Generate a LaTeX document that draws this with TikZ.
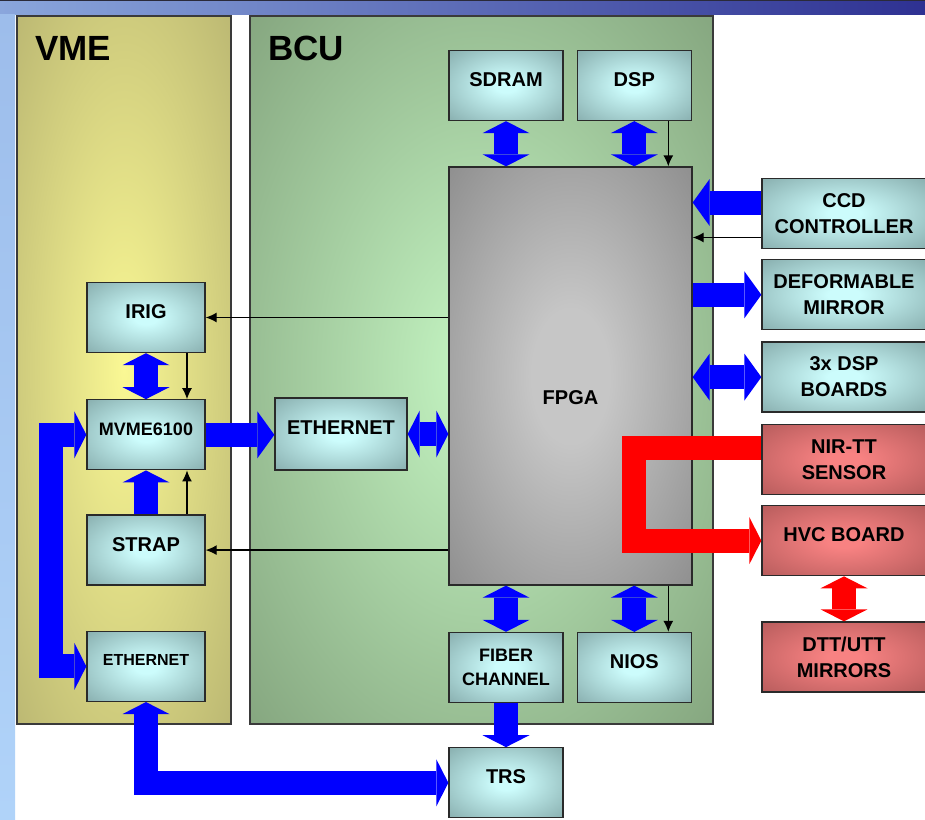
\documentclass[tikz,border=0pt]{standalone}
\usepackage{fontspec}
\setmainfont{Liberation Sans}
\usetikzlibrary{arrows.meta,positioning}
\definecolor{bandleft}{HTML}{8AA6DC}
\definecolor{bandright}{HTML}{2E3192}
\definecolor{bandline}{HTML}{2A2A3A}
\definecolor{striptop}{HTML}{9DBDEB}
\definecolor{stripbottom}{HTML}{B0D3F9}
\definecolor{vmein}{HTML}{FAF894}
\definecolor{vmeout}{HTML}{ADA96B}
\definecolor{bcuin}{HTML}{C6F7C4}
\definecolor{bcuout}{HTML}{76936F}
\definecolor{panelline}{HTML}{3A3A3A}
\definecolor{tealin}{HTML}{CCFCFC}
\definecolor{tealout}{HTML}{7FA4A4}
\definecolor{grayin}{HTML}{C6C6C6}
\definecolor{grayout}{HTML}{7E7E7E}
\definecolor{redin}{HTML}{F88282}
\definecolor{redout}{HTML}{AE5757}
\definecolor{boxline}{HTML}{2A2A2A}
\definecolor{busblue}{HTML}{0000FF}
\definecolor{busred}{HTML}{FF0000}
\pgfdeclareradialshading{vmeglow}{\pgfpoint{0bp}{0bp}}{color(0bp)=(vmein); color(44bp)=(vmeout); color(80bp)=(vmeout)}
\pgfdeclareradialshading{bcuglow}{\pgfpoint{0bp}{0bp}}{color(0bp)=(bcuin); color(44bp)=(bcuout); color(80bp)=(bcuout)}
\pgfdeclareradialshading{tealglow}{\pgfpoint{0bp}{0bp}}{color(0bp)=(tealin); color(5bp)=(tealin); color(40bp)=(tealout); color(80bp)=(tealout)}
\pgfdeclareradialshading{grayglow}{\pgfpoint{0bp}{0bp}}{color(0bp)=(grayin); color(8bp)=(grayin); color(44bp)=(grayout); color(80bp)=(grayout)}
\pgfdeclareradialshading{redglow}{\pgfpoint{0bp}{0bp}}{color(0bp)=(redin); color(5bp)=(redin); color(40bp)=(redout); color(80bp)=(redout)}
\tikzset{
  panel/.style={draw=panelline, line width=1.5pt, shade, inner sep=0pt},
  paneltitle/.style={inner sep=0pt, font=\fontsize{35}{40}\selectfont\bfseries},
  unit/.style={
    draw=boxline,
    line width=1.3pt,
    shade,
    shading=tealglow,
    minimum width=114pt,
    minimum height=70pt,
    inner sep=2pt,
    align=center,
    font=\fontsize{20}{26}\selectfont\bfseries
  },
  sideunit/.style={unit, minimum width=164pt},
  alarm/.style={sideunit, shading=redglow},
  chip/.style={unit, shading=grayglow, minimum width=243pt, minimum height=418pt, text height=58pt},
  lift/.style={text depth=12pt},
  fat/.tip={Triangle[length=17pt,width=47pt,line width=0pt]},
  stub/.tip={Triangle[length=12pt,width=47pt,line width=0pt]},
  bus/.style={draw=busblue, line width=24pt, line join=miter},
  redbus/.style={bus, draw=busred},
  wire/.style={draw=black, line width=1.3pt, -{Latex[length=11pt,width=10pt]}}
}
\begin{document}
\begin{tikzpicture}[x=1pt,y=-1pt]
      \useasboundingbox (0,0) rectangle (925,819);
      \fill[white] (0,0) rectangle (925,819);
      \shade[left color=bandleft, right color=bandright] (0,0) rectangle (925,14);
      \fill[bandline] (0,0) rectangle (925,1.2);
      \shade[top color=striptop, bottom color=stripbottom] (0,14) rectangle (15,819);
      \node[panel, shading=vmeglow, minimum width=214pt, minimum height=708pt] (vme) at (124,370) {};
      \node[panel, shading=bcuglow, minimum width=463pt, minimum height=708pt] (bcu) at (481.5,370) {};
      \node[paneltitle, anchor=base west] (vmetitle) at (35,60) {VME};
      \node[paneltitle, anchor=base west] (bcutitle) at (268,60) {BCU};
      \node[unit, lift] (sdram) at (506,85.5) {SDRAM};
      \node[unit, lift, right=13pt of sdram] (dsp) {DSP};
      \node[chip] (fpga) at (570.5,376) {FPGA};
      \node[unit, font=\fontsize{18}{24}\selectfont\bfseries] (fiber) at (506,667.5) {FIBER\\CHANNEL};
      \node[unit, lift, right=13pt of fiber] (nios) {NIOS};
      \node[unit, lift, below=44pt of fiber] (trs) {TRS};
      \node[sideunit] (ccd) at (844,213.5) {CCD\\CONTROLLER};
      \node[sideunit, below=10pt of ccd] (dm) {DEFORMABLE\\MIRROR};
      \node[sideunit, below=11pt of dm] (dspb) {3x DSP\\BOARDS};
      \node[alarm, below=11pt of dspb] (nir) {NIR-TT\\SENSOR};
      \node[alarm, lift, below=10pt of nir] (hvc) {HVC BOARD};
      \node[alarm, below=45pt of hvc] (dtt) {DTT/UTT\\MIRRORS};
      \node[unit, lift, minimum width=118pt] (irig) at (146,317.5) {IRIG};
      \node[unit, lift, minimum width=118pt, below=46pt of irig, font=\fontsize{18}{24}\selectfont\bfseries] (mvme) {MVME6100};
      \node[unit, lift, minimum width=118pt, below=44pt of mvme] (strap) {STRAP};
      \node[unit, lift, minimum width=118pt, below=45pt of strap, font=\fontsize{16}{20}\selectfont\bfseries] (ethv) {ETHERNET};
      \node[unit, lift, minimum width=132pt, minimum height=72pt] (ethb) at (341,434) {ETHERNET};
      \coordinate (ccdbus) at ([yshift=11pt]ccd.west);
      \coordinate (nirbus) at ([yshift=11pt]nir.west);
      \coordinate (dspctl) at ([xshift=34pt]dsp.south);
      \coordinate (ccdctl) at ([yshift=-24pt]ccd.west);
      \coordinate (irigctl) at ([xshift=41pt]irig.south);
      \coordinate (strapctl) at ([xshift=41pt]strap.north);
      \draw[bus, stub-stub] (sdram.south) -- (sdram.south |- fpga.north);
      \draw[bus, stub-stub] (dsp.south) -- (dsp.south |- fpga.north);
      \draw[bus, stub-stub] (fiber.north) -- (fiber.north |- fpga.south);
      \draw[bus, stub-stub] (nios.north) -- (nios.north |- fpga.south);
      \draw[bus, -stub] (fiber.south) -- (trs.north);
      \draw[bus, -fat] (ccdbus) -- (ccdbus -| fpga.east);
      \draw[bus, -fat] (fpga.east |- dm.west) -- (dm.west);
      \draw[bus, fat-fat] (fpga.east |- dspb.west) -- (dspb.west);
      \draw[redbus, -stub] (nirbus) -- ++(-127,0) |- (hvc.west);
      \draw[redbus, stub-stub] (hvc.south) -- (dtt.north);
      \draw[bus, stub-stub] (ethv.south) |- (trs.west);
      \draw[bus, stub-stub] (mvme.west) -- ++(-35,0) |- (ethv.west);
      \draw[bus, stub-stub] (irig.south) -- (mvme.north);
      \draw[bus, -stub] (strap.north) -- (mvme.south);
      \draw[bus, -fat] (mvme.east) -- (mvme.east -| ethb.west);
      \draw[bus, stub-stub] (ethb.east) -- (ethb.east -| fpga.west);
      \draw[wire] (dspctl) -- (dspctl |- fpga.north);
      \draw[wire] (ccdctl) -- (ccdctl -| fpga.east);
      \draw[wire] (fpga.west |- irig.east) -- (irig.east);
      \draw[wire] (fpga.west |- strap.east) -- (strap.east);
      \draw[wire] (irigctl) -- (irigctl |- mvme.north);
      \draw[wire] (strapctl) -- (strapctl |- mvme.south);
      \draw[wire] (fpga.south -| dspctl) -- (nios.north -| dspctl);
    \end{tikzpicture}
\end{document}
